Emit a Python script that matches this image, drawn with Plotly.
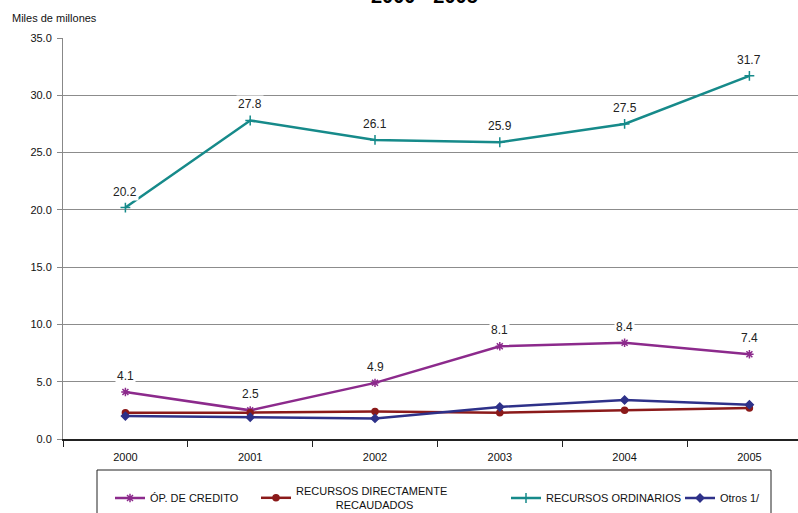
import plotly.graph_objects as go

years = ["2000", "2001", "2002", "2003", "2004", "2005"]
op_credito = [4.1, 2.5, 4.9, 8.1, 8.4, 7.4]
rec_directos = [2.3, 2.3, 2.4, 2.3, 2.5, 2.7]
rec_ordinarios = [20.2, 27.8, 26.1, 25.9, 27.5, 31.7]
otros = [2.0, 1.9, 1.8, 2.8, 3.4, 3.0]
y_ticks = [0, 5, 10, 15, 20, 25, 30, 35]

W, H = 798, 513
L, T, B = 63, 38, 74
PW = W - L
PH = H - T - B


def px_x(p):
    return (p - L) / PW


def px_y(p):
    return (H - B - p) / PH


series = [
    dict(name="ÓP. DE CREDITO", y=op_credito, color="#8c2a8c",
         symbol="asterisk-open", size=7, legend="legend", lx=110),
    dict(name="RECURSOS DIRECTAMENTE<br>" + "&nbsp;" * 13 + "RECAUDADOS",
         y=rec_directos, color="#8b1a1a", symbol="circle", size=6,
         legend="legend2", lx=256),
    dict(name="RECURSOS ORDINARIOS", y=rec_ordinarios, color="#168a8a",
         symbol="cross-thin-open", size=7, legend="legend3", lx=506),
    dict(name="Otros 1/", y=otros, color="#2e3189", symbol="diamond",
         size=6, legend="legend4", lx=680),
]

fig = go.Figure()
for s in series:
    fig.add_trace(go.Scatter(
        x=years, y=s["y"], name=s["name"], mode="lines+markers",
        line=dict(color=s["color"], width=2.5),
        marker=dict(symbol=s["symbol"], size=s["size"], color=s["color"],
                    line=dict(color=s["color"], width=1.5)),
        legend=s["legend"],
    ))

# value labels for the two upper series (category index as x position)
for vals in (rec_ordinarios, op_credito):
    for i, yv in enumerate(vals):
        fig.add_annotation(x=i, y=yv, text=f"{yv:.1f}", showarrow=False,
                           yshift=16, bgcolor="white", borderpad=1,
                           font=dict(family="Arial", size=12, color="#222"))

legend_common = dict(orientation="h", yanchor="middle", y=px_y(498),
                     xanchor="left", bgcolor="rgba(0,0,0,0)",
                     font=dict(family="Arial", size=11, color="#111"),
                     itemwidth=30, tracegroupgap=0)
layout_legends = {}
for s in series:
    layout_legends[s["legend"]] = dict(legend_common, x=px_x(s["lx"]))

fig.update_layout(
    width=W, height=H,
    margin=dict(l=L, r=0, t=T, b=B, pad=0, autoexpand=False),
    plot_bgcolor="white", paper_bgcolor="white",
    showlegend=True,
    font=dict(family="Arial", size=11, color="#111"),
    **layout_legends,
)

fig.update_xaxes(
    type="category", range=[-0.5, -0.5 + PW / 124.8],
    tickson="boundaries", ticks="outside", ticklen=6, tickcolor="#222",
    showline=True, linecolor="#222", linewidth=1.5, showgrid=False,
    tickfont=dict(family="Arial", size=11, color="#111"),
    ticklabelstandoff=7, zeroline=False,
)
fig.update_yaxes(
    range=[0, 35], tickvals=y_ticks,
    ticktext=[f"{v:.1f}" for v in y_ticks],
    ticks="outside", ticklen=5, tickcolor="#888",
    showline=True, linecolor="#888", linewidth=1,
    showgrid=True, gridcolor="#8c8c8c", gridwidth=1, zeroline=False,
    tickfont=dict(family="Arial", size=11, color="#111"),
    ticklabelstandoff=3,
)

# axis caption and title
fig.add_annotation(xref="paper", yref="paper", x=px_x(10), y=px_y(18),
                   xanchor="left", yanchor="middle", showarrow=False,
                   text="Miles de millones",
                   font=dict(family="Arial", size=11, color="#111"))
fig.add_annotation(xref="paper", yref="paper", x=px_x(424), y=px_y(9),
                   xanchor="center", yanchor="bottom", showarrow=False,
                   text="<b>2000 - 2005</b>",
                   font=dict(family="Arial", size=20, color="#000"))

# legend frame
fig.add_shape(type="rect", xref="paper", yref="paper",
              x0=px_x(97), x1=px_x(771), y0=px_y(470), y1=px_y(540),
              line=dict(color="#222", width=1), fillcolor="rgba(0,0,0,0)",
              layer="above")

fig.write_html("out.html")
